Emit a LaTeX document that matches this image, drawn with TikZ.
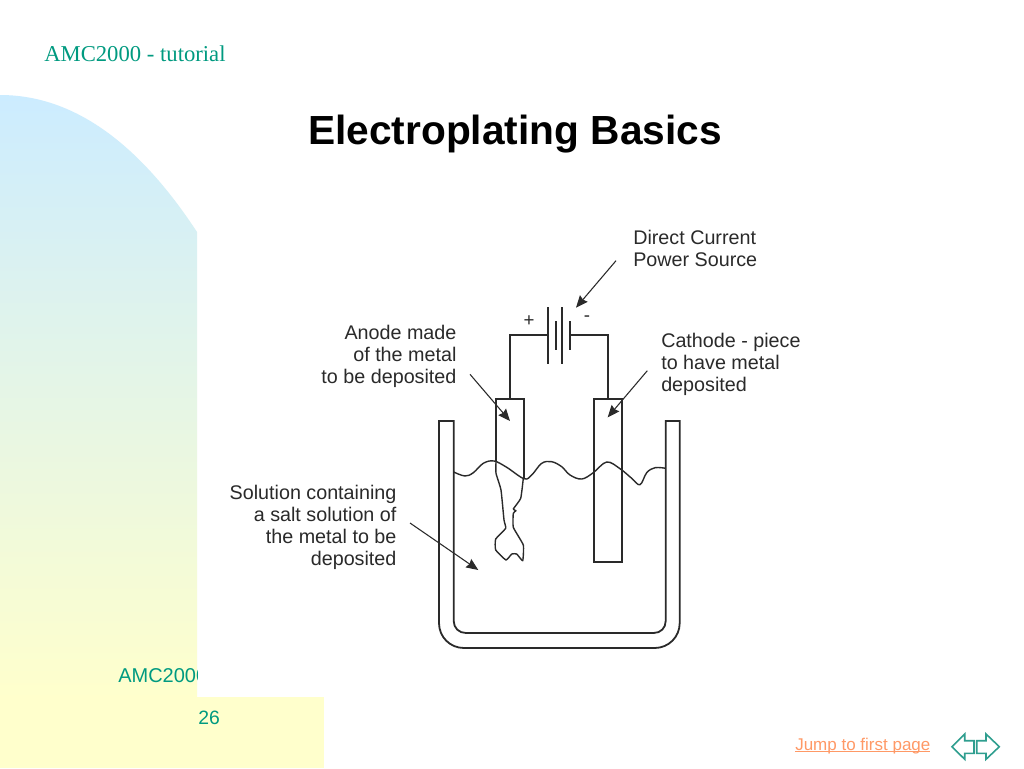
\documentclass[tikz,border=0pt]{standalone}
\usepackage{fontspec}
\setmainfont{Liberation Sans}
\newfontfamily\serifface{Liberation Serif}
\usetikzlibrary{arrows.meta}
\definecolor{tealtext}{HTML}{009A80}
\definecolor{navteal}{HTML}{2F9E8F}
\definecolor{linkorange}{HTML}{FF9966}
\definecolor{paleblue}{HTML}{CCECFF}
\definecolor{paleyellow}{HTML}{FFFFCC}
\definecolor{inkline}{HTML}{2A2A2A}
\newcommand\lowline[1]{\setbox0\hbox{#1}\rlap{\rule[-1.6pt]{\wd0}{0.7pt}}\box0}
\tikzset{
  lab/.style={inner sep=0pt,font=\fontsize{14.8}{16.5}\selectfont,text=inkline},
  rightlab/.style={lab,align=right,anchor=east},
  leftlab/.style={lab,align=left,anchor=west},
  wire/.style={draw=inkline,line width=1.35pt},
  thinline/.style={draw=inkline,line width=1.05pt},
  pointer/.style={draw=inkline,line width=0.8pt,-{Stealth[length=9pt,width=7.5pt,inset=1pt]}},
  navshape/.style={draw=navteal,line width=1.2pt,fill=white,line join=miter},
  plate/.style={draw=inkline,line width=1.35pt},
  tealab/.style={inner sep=0pt,anchor=base west,text=tealtext}
}
\begin{document}
\begin{tikzpicture}[x=0.75pt,y=-0.75pt]
\useasboundingbox (0,0) rectangle (1024,768);
\fill[white] (0,0) rectangle (1024,768);
% background panel
\begin{scope}
\clip (0,95) .. controls (75,95) and (140,145) .. (197,232) -- (197,697) -- (324,697) -- (324,768) -- (0,768) -- cycle;
\shade[top color=paleblue,bottom color=paleyellow] (0,95) rectangle (324,700);
\fill[paleyellow] (0,699) rectangle (324,768);
\end{scope}
% header & footer text
\node[tealab,font=\serifface\fontsize{17}{20}\selectfont] (hdr) at (44,61) {AMC2000 - tutorial};
\begin{scope}
\clip (0,640) rectangle (197,768);
\node[tealab,font=\fontsize{15}{18}\selectfont] (foot) at (118,682) {AMC2000};
\end{scope}
\node[tealab,font=\fontsize{14.5}{18}\selectfont] (pagenum) at (198,724) {26};
\node[inner sep=0pt,anchor=base west,font=\bfseries\fontsize{30.5}{36}\selectfont,text=black] (title) at (308,144.5) {Electroplating Basics};
\node[inner sep=0pt,anchor=base west,font=\fontsize{12.75}{15}\selectfont,text=linkorange] (jump) at (795,750) {\lowline{Jump to first page}};
% nav arrows
\draw[navshape] (952,746.7) -- (964.7,734) -- (964.7,740.7) -- (974,740.7) -- (974,753.3) -- (964.7,753.3) -- (964.7,759.3) -- cycle;
\draw[navshape] (976.7,740.7) -- (986,740.7) -- (986,734) -- (999.3,746.7) -- (986,759.3) -- (986,753.3) -- (976.7,753.3) -- cycle;
% labels
\node[leftlab] (dc) at (633,248.5) {Direct Current\\Power Source};
\node[rightlab] (anodelab) at (456.7,356) {Anode made\\of the metal\\to be deposited};
\node[leftlab] (cathlab) at (661,364) {Cathode - piece\\to have metal\\deposited};
\node[rightlab] (sollab) at (396.7,527.5) {Solution containing\\a salt solution of\\the metal to be\\deposited};
\node[lab,font=\fontsize{14}{14}\selectfont] (plus) at (529,321.5) {+};
\node[lab,font=\fontsize{14}{14}\selectfont] (minus) at (587,319) {-};
% battery
\coordinate (a1) at (548,307); \coordinate (a2) at (548,364);
\coordinate (b1) at (555.7,321); \coordinate (b2) at (555.7,350);
\coordinate (c1) at (562,307); \coordinate (c2) at (562,364);
\coordinate (d1) at (569.7,321); \coordinate (d2) at (569.7,350);
\draw[plate] (a1) -- (a2);
\draw[plate] (b1) -- (b2);
\draw[plate] (c1) -- (c2);
\draw[plate] (d1) -- (d2);
\coordinate (battL) at (548,335);
\coordinate (battR) at (569.7,335);
\coordinate (anodeTop) at (510,399);
\coordinate (cathTop) at (608,399);
\draw[wire] (battL) -| (anodeTop);
\draw[wire] (battR) -| (cathTop);
% electrodes
\draw[wire] (496,461.7) -- (496,399) -- (523.7,399) -- (523.7,478.3);
\draw[wire] (593.7,399) rectangle (622,562);
% corroded anode bottom
\draw[thinline,line join=round] plot[smooth,tension=0.25] coordinates {(496,461.7) (496,473.3) (501,490) (504,520) (505.7,528.3) (495.7,539) (495.7,550) (506,560) (511.7,554) (516.7,554) (522.7,560.7) (523.3,545) (513.3,527.3) (513.3,513.3) (516,510.7) (513.3,509) (520.7,498.3) (523.3,478.3)};
% water line
\draw[thinline] plot[smooth,tension=0.6] coordinates {(453.7,472) (465,476) (473.3,472.7) (483.3,463.3) (494,461) (506.7,467.3) (524,478.7) (531.7,475) (541.7,463.3) (551.7,461.7) (561.7,466.7) (570,475) (581.7,479) (593.3,472.7) (606.7,462) (620,468.7) (631.7,478.3) (640,484.7) (646.7,472.7) (655,467.7) (665.7,468.3)};
% tank
\draw[wire,line join=miter] (439,421) -- (453.7,421) -- (453.7,621) .. controls (453.7,628) and (459,633) .. (466,633) -- (653.7,633) .. controls (660.5,633) and (665.7,628) .. (665.7,621) -- (665.7,421) -- (679.7,421) -- (679.7,623) .. controls (679.7,637) and (668.5,648) .. (654.7,648) -- (464,648) .. controls (450,648) and (439,637) .. (439,623) -- cycle;
% pointers
\coordinate (pt1s) at (616,260.7); \coordinate (pt1e) at (576,307.7);
\coordinate (pt2s) at (470,374.3); \coordinate (pt2e) at (510,421);
\coordinate (pt3s) at (647.3,370.7); \coordinate (pt3e) at (607.7,417.3);
\coordinate (pt4s) at (410,523); \coordinate (pt4e) at (478.3,570);
\draw[pointer] (pt1s) -- (pt1e);
\draw[pointer] (pt2s) -- (pt2e);
\draw[pointer] (pt3s) -- (pt3e);
\draw[pointer] (pt4s) -- (pt4e);
\end{tikzpicture}
\end{document}
